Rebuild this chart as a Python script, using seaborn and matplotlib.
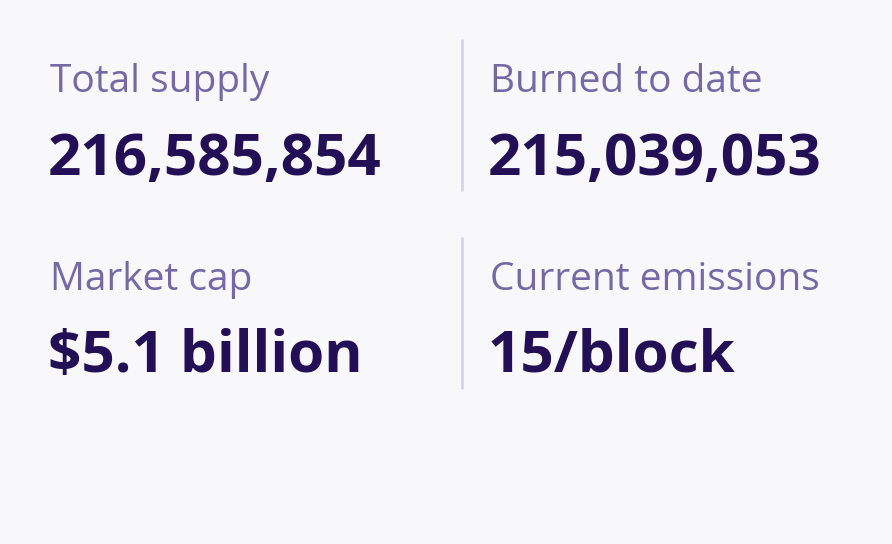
import matplotlib
matplotlib.use("Agg")
import matplotlib.pyplot as plt
import seaborn as sns

labels = ["Total supply", "Burned to date", "Market cap", "Current emissions"]
values = ["216,585,854", "215,039,053", "$5.1 billion", "15/block"]

sns.set_theme(style="white")
plt.rcParams['font.family'] = ['Open Sans', 'DejaVu Sans']
BG = "#F8F7FA"
fig = plt.figure(figsize=(8.92, 5.44), dpi=100, facecolor=BG)
ax = fig.add_axes([0, 0, 1, 1])
ax.set_facecolor(BG)
ax.set_xlim(0, 892); ax.set_ylim(544, 0); ax.axis("off")

xs = [50, 490, 50, 490]
label_y = [92, 92, 290, 290]
value_y = [175, 175, 372, 372]
for lab, val, x, ly, vy in zip(labels, values, xs, label_y, value_y):
    ax.text(x, ly, lab, fontsize=28, color="#7469A6", va="baseline", ha="left")
    ax.text(x - 2, vy, val, fontsize=42, fontweight="bold", color="#220F55", va="baseline", ha="left")
for y0, y1 in [(40, 190), (238, 388)]:
    ax.plot([462, 462], [y0, y1], color="#D8D4E8", lw=2)
fig.savefig("out.png", dpi=100, facecolor=BG)
